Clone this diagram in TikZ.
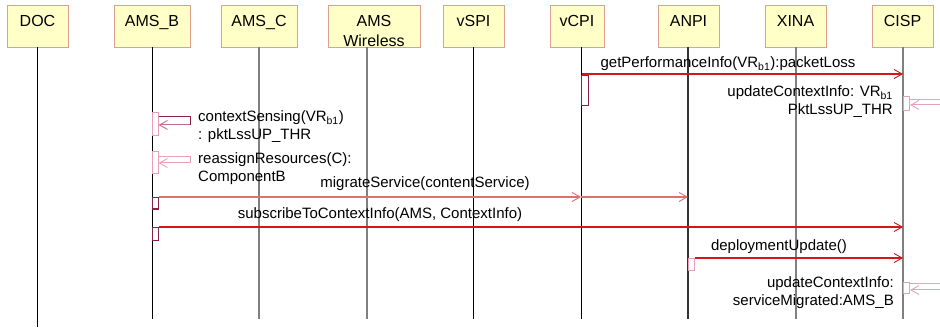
\documentclass[tikz,border=0pt]{standalone}
\usepackage{fontspec}
\setmainfont{Liberation Sans}
\usetikzlibrary{arrows.meta}
\definecolor{boxfill}{HTML}{FFFFC8}
\definecolor{boxline}{HTML}{E0A090}
\definecolor{msgred}{HTML}{D01818}
\definecolor{salmonred}{HTML}{E07070}
\definecolor{darkact}{HTML}{8B2048}
\definecolor{pinkact}{HTML}{E8A0B8}
\definecolor{lifegray}{HTML}{808080}
\begin{document}
\begin{tikzpicture}[x=1pt,y=-1pt,
  hdr/.style={draw=boxline, fill=boxfill, line width=0.8pt, inner sep=0pt,
    minimum height=42pt, text height=21.7pt, text depth=20.3pt,
    font=\fontsize{16}{20}\selectfont},
  lifeblack/.style={draw=black, line width=0.8pt},
  lifegrey/.style={draw=lifegray, line width=1.6pt},
  lifedark/.style={draw=black!80, line width=1.1pt},
  lbl/.style={inner sep=0pt, font=\fontsize{15}{18}\selectfont},
  actdark/.style={draw=darkact, fill=white, line width=1.4pt, inner sep=0pt, anchor=north west},
  actpink/.style={draw=pinkact, fill=white, line width=1.1pt, inner sep=0pt, anchor=north west},
  msg/.style={draw=msgred, line width=1.1pt, -{Straight Barb[length=8pt,width=9pt,line width=0.9pt]}},
  msgsalmon/.style={draw=salmonred, line width=1.1pt, -{Straight Barb[length=8pt,width=9pt,line width=0.9pt]}},
  selfdark/.style={draw=darkact, line width=1pt},
  selfpink/.style={draw=pinkact, line width=1pt},
  selfpinkarr/.style={draw=pinkact!60!darkact, line width=1pt, -{Straight Barb[length=8pt,width=9pt,line width=0.9pt]}},
  pinkarr/.style={draw=pinkact, line width=1pt, -{Straight Barb[length=8pt,width=9pt,line width=0.9pt]}},
]
\useasboundingbox (0,0) rectangle (940,328);

% header boxes
\node[hdr, minimum width=61pt] (doc) at (37.5,26) {DOC};
\node[hdr, minimum width=76pt] (amsb) at (152,26) {AMS\_B};
\node[hdr, minimum width=76pt] (amsc) at (259,26) {AMS\_C};
\node[hdr, minimum width=92pt] (amsw) at (374,26) {\begin{tabular}[t]{@{}c@{}}AMS\\Wireless\end{tabular}};
\node[hdr, minimum width=61pt] (vspi) at (473.5,26) {vSPI};
\node[hdr, minimum width=54pt] (vcpi) at (577,26) {vCPI};
\node[hdr, minimum width=61pt] (anpi) at (688.5,26) {ANPI};
\node[hdr, minimum width=61pt] (xina) at (795.5,26) {XINA};
\node[hdr, minimum width=61pt] (cisp) at (902.5,26) {CISP};

% lifeline ends
\coordinate (docT) at (37.5,47);  \coordinate (docB) at (37.5,327);
\coordinate (amsbT) at (152,47);  \coordinate (amsbB) at (152,319);
\coordinate (amscT) at (259,47);  \coordinate (amscB) at (259,319);
\coordinate (amswT) at (367,47);  \coordinate (amswB) at (367,319);
\coordinate (vspiT) at (473,47);  \coordinate (vspiB) at (473,319);
\coordinate (vcpiT) at (581,47);  \coordinate (vcpiB) at (581,319);
\coordinate (anpiT) at (688,47);  \coordinate (anpiB) at (688,319);
\coordinate (xinaT) at (796,47);  \coordinate (xinaB) at (796,319);
\coordinate (cispT) at (903,47);  \coordinate (cispB) at (903,319);

\draw[lifeblack] (docT) -- (docB);
\draw[lifeblack] (amsbT) -- (amsbB);
\draw[lifegrey] (amscT) -- (amscB);
\draw[lifegrey] (amswT) -- (amswB);
\draw[lifeblack] (vspiT) -- (vspiB);
\draw[lifeblack] (vcpiT) -- (vcpiB);
\draw[lifedark] (anpiT) -- (anpiB);
\draw[lifegrey] (xinaT) -- (xinaB);
\draw[lifegrey] (cispT) -- (cispB);

% message 1: getPerformanceInfo
\coordinate (m1s) at (582,74); \coordinate (m1e) at (903,74);
\draw[msg] (m1s) -- (m1e);
\node[lbl, anchor=base] (l1) at (728,68) {getPerformanceInfo(VR\textsubscript{b1}):packetLoss};
\node[actdark, minimum width=7pt, minimum height=30pt] (a1) at (581,75) {};

% message 2: found updateContextInfo
\node[actpink, minimum width=6pt, minimum height=14pt] (a2) at (903,96) {};
\coordinate (f1a) at (940,100); \coordinate (f1b) at (940,105);
\draw[selfpink] (a2.north east |- f1a) -- (f1a);
\draw[pinkarr] (f1b) -- (a2.east |- f1b);
\node[lbl, anchor=base east] (l2) at (893,97) {\begin{tabular}[t]{@{}r@{}}updateContextInfo: VR\textsubscript{b1}\\PktLssUP\_THR\end{tabular}};

% self message: contextSensing
\node[actpink, minimum width=5.5pt, minimum height=23pt] (a3) at (152,112) {};
\coordinate (s1a) at (190,117); \coordinate (s1b) at (190,125);
\draw[selfdark] (a3.east |- s1a) -- (s1a) -- (s1b);
\draw[selfpinkarr] (s1b) -- (a3.east |- s1b);
\node[lbl, anchor=base west] (l3) at (198,122) {\begin{tabular}[t]{@{}l@{}}contextSensing(VR\textsubscript{b1})\\: pktLssUP\_THR\end{tabular}};

% self message: reassignResources
\node[actpink, minimum width=5.5pt, minimum height=22pt] (a4) at (152,151) {};
\coordinate (s2a) at (190,157); \coordinate (s2b) at (190,163);
\draw[selfpink] (a4.east |- s2a) -- (s2a) -- (s2b);
\draw[pinkarr] (s2b) -- (a4.east |- s2b);
\node[lbl, anchor=base west] (l4) at (198,164) {\begin{tabular}[t]{@{}l@{}}reassignResources(C):\\ComponentB\end{tabular}};

% migrateService
\node[actdark, minimum width=6pt, minimum height=11.5pt] (a5) at (152,197) {};
\coordinate (m5v) at (581,197); \coordinate (m5a) at (688,197);
\draw[msgsalmon] (a5.north east) -- (m5v);
\draw[msgsalmon] (m5v) -- (m5a);
\node[lbl, anchor=base] (l5) at (425,188) {migrateService(contentService)};

% subscribeToContextInfo
\node[actdark, minimum width=6pt, minimum height=13pt] (a6) at (152,227) {};
\coordinate (m6e) at (903,227);
\draw[msg] (a6.north east) -- (m6e);
\node[lbl, anchor=base] (l6) at (380,219) {subscribeToContextInfo(AMS, ContextInfo)};

% deploymentUpdate
\node[actpink, minimum width=6pt, minimum height=12pt] (a7) at (688,258) {};
\coordinate (m7e) at (903,258);
\draw[msg] (a7.north east) -- (m7e);
\node[lbl, anchor=base] (l7) at (779,251) {deploymentUpdate()};

% found updateContextInfo 2
\node[actpink, minimum width=6pt, minimum height=11pt] (a8) at (903,282) {};
\coordinate (f2a) at (940,284); \coordinate (f2b) at (940,290);
\draw[selfpink] (a8.east |- f2a) -- (f2a);
\draw[pinkarr] (f2b) -- (a8.east |- f2b);
\node[lbl, anchor=base east] (l8) at (894,288) {\begin{tabular}[t]{@{}r@{}}updateContextInfo:\\serviceMigrated:AMS\_B\end{tabular}};
\end{tikzpicture}
\end{document}
